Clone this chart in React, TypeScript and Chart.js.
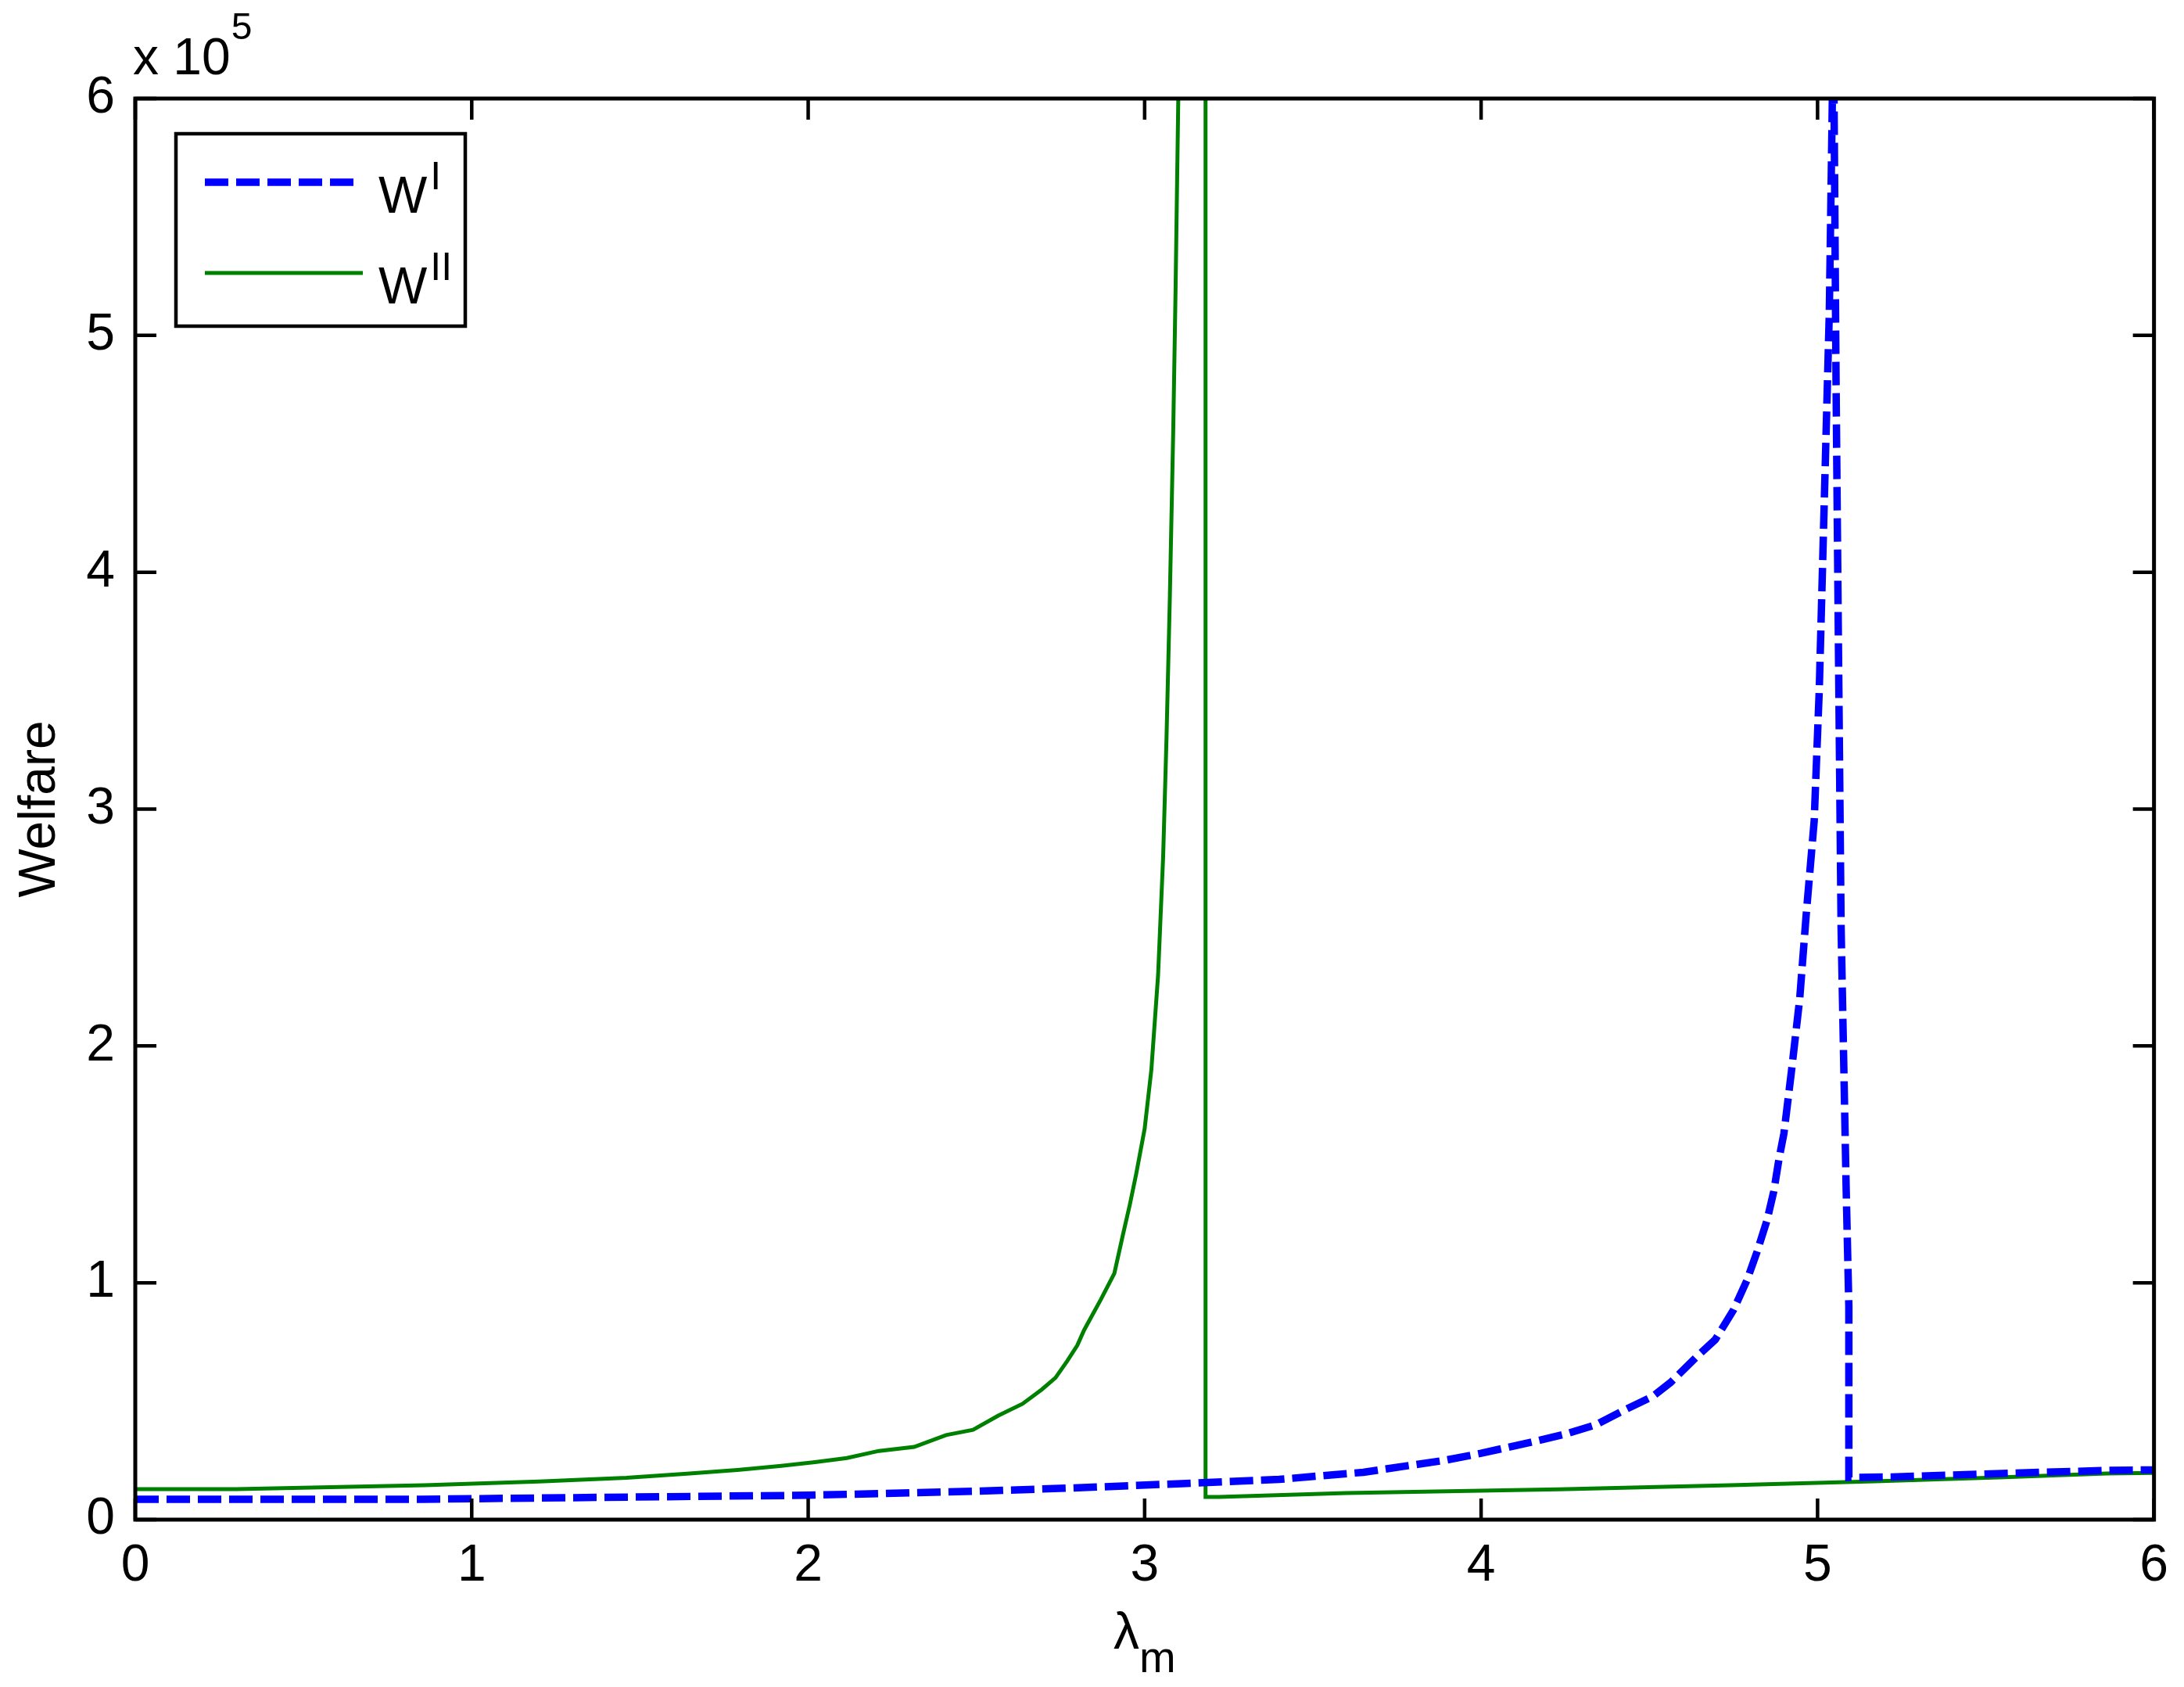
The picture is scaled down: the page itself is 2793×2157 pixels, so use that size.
import React, { useEffect, useRef } from "react";
import { Chart, registerables } from "chart.js";

Chart.register(...registerables);

// ---- data (y in units of 10^5) ----
const X_TICKS = [0, 1, 2, 3, 4, 5, 6];
const Y_TICKS = [0, 1, 2, 3, 4, 5, 6];

const W1_X = [0, 0.85, 2.0, 2.5, 2.83, 3.11, 3.4, 3.65, 3.89, 4.0, 4.17, 4.255, 4.34, 4.425, 4.51, 4.564, 4.64, 4.696, 4.75, 4.79, 4.82, 4.85, 4.87, 4.885, 4.9, 4.923, 4.947, 4.966, 4.99, 5.005, 5.02, 5.035, 5.044, 5.046, 5.047, 5.049, 5.055, 5.062, 5.07, 5.085, 5.093, 5.093, 5.22, 5.55, 5.87, 6.0];
const W1_Y = [0.086, 0.086, 0.103, 0.12, 0.136, 0.152, 0.17, 0.2, 0.25, 0.28, 0.334, 0.363, 0.4, 0.462, 0.52, 0.58, 0.687, 0.76, 0.885, 1.01, 1.13, 1.265, 1.387, 1.52, 1.63, 1.9, 2.2, 2.55, 2.95, 3.5, 4.3, 5.1, 6.0, 40, 40, 6.0, 4.8, 3.7, 2.5, 1.4, 0.9, 0.178, 0.18, 0.195, 0.208, 0.21];

const W2_X = [0, 0.3, 0.86, 1.2, 1.46, 1.64, 1.79, 1.92, 2.02, 2.115, 2.21, 2.315, 2.41, 2.49, 2.565, 2.637, 2.694, 2.735, 2.77, 2.8, 2.82, 2.87, 2.91, 2.935, 2.956, 2.975, 3.0, 3.02, 3.04, 3.055, 3.065, 3.075, 3.085, 3.092, 3.1, 3.103, 3.181, 3.181, 3.22, 3.6, 4.23, 4.74, 5.17, 5.54, 5.86, 6.0];
const W2_Y = [0.129, 0.129, 0.145, 0.161, 0.177, 0.194, 0.21, 0.227, 0.243, 0.26, 0.29, 0.307, 0.357, 0.379, 0.439, 0.489, 0.549, 0.599, 0.67, 0.736, 0.8, 0.93, 1.04, 1.2, 1.33, 1.46, 1.65, 1.9, 2.3, 2.8, 3.3, 3.9, 4.6, 5.2, 6.0, 40, 40, 0.096, 0.096, 0.112, 0.128, 0.145, 0.162, 0.178, 0.195, 0.197];

const SERIES_NAMES = ["W", "W"];
const SERIES_SUPS = ["I", "II"];
const SERIES_COLORS = ["#0000ff", "#008000"];
const X_LABEL = "λ";
const X_LABEL_SUB = "m";
const Y_LABEL = "Welfare";
const EXP_BASE = "x 10";
const EXP_POW = "5";

const FONT = '"Liberation Sans", Arial, sans-serif';

const W = 2793;
const H = 2157;

const framePlugin = {
  id: "matlabFrame",
  afterDraw(chart: any) {
    const { ctx, chartArea: a, scales } = chart;
    const xs = scales.x;
    const ys = scales.y;
    ctx.save();
    ctx.setLineDash([]);
    ctx.strokeStyle = "#000";
    ctx.lineWidth = 5;
    ctx.strokeRect(a.left, a.top, a.right - a.left, a.bottom - a.top);
    const TL = 27;
    ctx.lineWidth = 4.5;
    ctx.beginPath();
    for (const v of X_TICKS) {
      const px = xs.getPixelForValue(v);
      ctx.moveTo(px, a.bottom);
      ctx.lineTo(px, a.bottom - TL);
      ctx.moveTo(px, a.top);
      ctx.lineTo(px, a.top + TL);
    }
    for (const v of Y_TICKS) {
      const py = ys.getPixelForValue(v);
      ctx.moveTo(a.left, py);
      ctx.lineTo(a.left + TL, py);
      ctx.moveTo(a.right, py);
      ctx.lineTo(a.right - TL, py);
    }
    ctx.stroke();

    ctx.fillStyle = "#000";
    ctx.textBaseline = "alphabetic";
    ctx.textAlign = "left";
    // exponent
    ctx.font = `66px ${FONT}`;
    ctx.fillText(EXP_BASE, a.left - 3, 95);
    const bw = ctx.measureText(EXP_BASE).width;
    ctx.font = `48px ${FONT}`;
    ctx.fillText(EXP_POW, a.left - 3 + bw + 1, 50);

    // x label
    const cx = (a.left + a.right) / 2;
    ctx.font = `66px ${FONT}`;
    const lw = ctx.measureText(X_LABEL).width;
    ctx.font = `56px ${FONT}`;
    const mw = ctx.measureText(X_LABEL_SUB).width;
    const startX = cx - (lw + mw) / 2;
    ctx.font = `66px ${FONT}`;
    ctx.fillText(X_LABEL, startX, 2108);
    ctx.font = `56px ${FONT}`;
    ctx.fillText(X_LABEL_SUB, startX + lw, 2138);

    // y label
    ctx.save();
    ctx.translate(70, (a.top + a.bottom) / 2);
    ctx.rotate(-Math.PI / 2);
    ctx.textAlign = "center";
    ctx.font = `66px ${FONT}`;
    ctx.fillText(Y_LABEL, 0, 0);
    ctx.restore();

    // legend
    ctx.lineWidth = 4.5;
    ctx.strokeStyle = "#000";
    ctx.fillStyle = "#fff";
    ctx.fillRect(225, 171, 370, 246);
    ctx.strokeRect(225, 171, 370, 246);
    const rows = [233, 349];
    const ds = chart.data.datasets;
    rows.forEach((ry: number, i: number) => {
      const d = ds[i];
      ctx.save();
      ctx.strokeStyle = d.borderColor;
      ctx.lineWidth = d.borderWidth;
      ctx.setLineDash(d.borderDash || []);
      ctx.lineCap = "butt";
      ctx.beginPath();
      ctx.moveTo(262, ry);
      ctx.lineTo(i === 0 ? 452 : 464, ry);
      ctx.stroke();
      ctx.restore();
      ctx.fillStyle = "#000";
      ctx.font = `66px ${FONT}`;
      ctx.fillText(SERIES_NAMES[i], 484, ry + 39);
      const ww = ctx.measureText(SERIES_NAMES[i]).width;
      ctx.font = `50px ${FONT}`;
      ctx.fillText(SERIES_SUPS[i], 484 + ww + 4, ry + 9);
    });
    ctx.restore();
  },
};

export default function App() {
  const ref = useRef<HTMLCanvasElement | null>(null);
  useEffect(() => {
    if (!ref.current) return;
    const d1 = W1_X.map((x, i) => ({ x, y: W1_Y[i] }));
    const d2 = W2_X.map((x, i) => ({ x, y: W2_Y[i] }));
    const chart = new Chart(ref.current, {
      type: "line",
      data: {
        datasets: [
          {
            label: "W^I",
            data: d1,
            borderColor: SERIES_COLORS[0],
            borderWidth: 9.5,
            borderDash: [30, 10],
            pointRadius: 0,
            tension: 0,
            fill: false,
            clip: 0,
          },
          {
            label: "W^II",
            data: d2,
            borderColor: SERIES_COLORS[1],
            borderWidth: 5,
            pointRadius: 0,
            tension: 0,
            fill: false,
            clip: 0,
          },
        ],
      },
      options: {
        responsive: false,
        devicePixelRatio: 1,
        animation: false,
        maintainAspectRatio: false,
        layout: { padding: { left: 0, top: 126, right: 34, bottom: 0 } },
        plugins: { legend: { display: false }, tooltip: { enabled: false } },
        scales: {
          x: {
            type: "linear",
            min: 0,
            max: 6,
            grid: { display: false, drawTicks: false },
            border: { display: false },
            ticks: {
              stepSize: 1,
              color: "#000",
              font: { family: FONT, size: 66 },
              padding: 20,
              maxRotation: 0,
            },
            afterFit: (s: any) => {
              s.height = 214;
            },
          },
          y: {
            type: "linear",
            min: 0,
            max: 6,
            grid: { display: false, drawTicks: false },
            border: { display: false },
            ticks: {
              stepSize: 1,
              color: "#000",
              font: { family: FONT, size: 66 },
              padding: 26,
            },
            afterFit: (s: any) => {
              s.width = 173;
            },
          },
        },
      },
      plugins: [framePlugin],
    });
    return () => chart.destroy();
  }, []);
  return (
    <div style={{ position: "fixed", left: 0, top: 0, width: W, height: H, background: "#fff" }}>
      <canvas ref={ref} width={W} height={H} style={{ width: W, height: H, display: "block" }} />
    </div>
  );
}
